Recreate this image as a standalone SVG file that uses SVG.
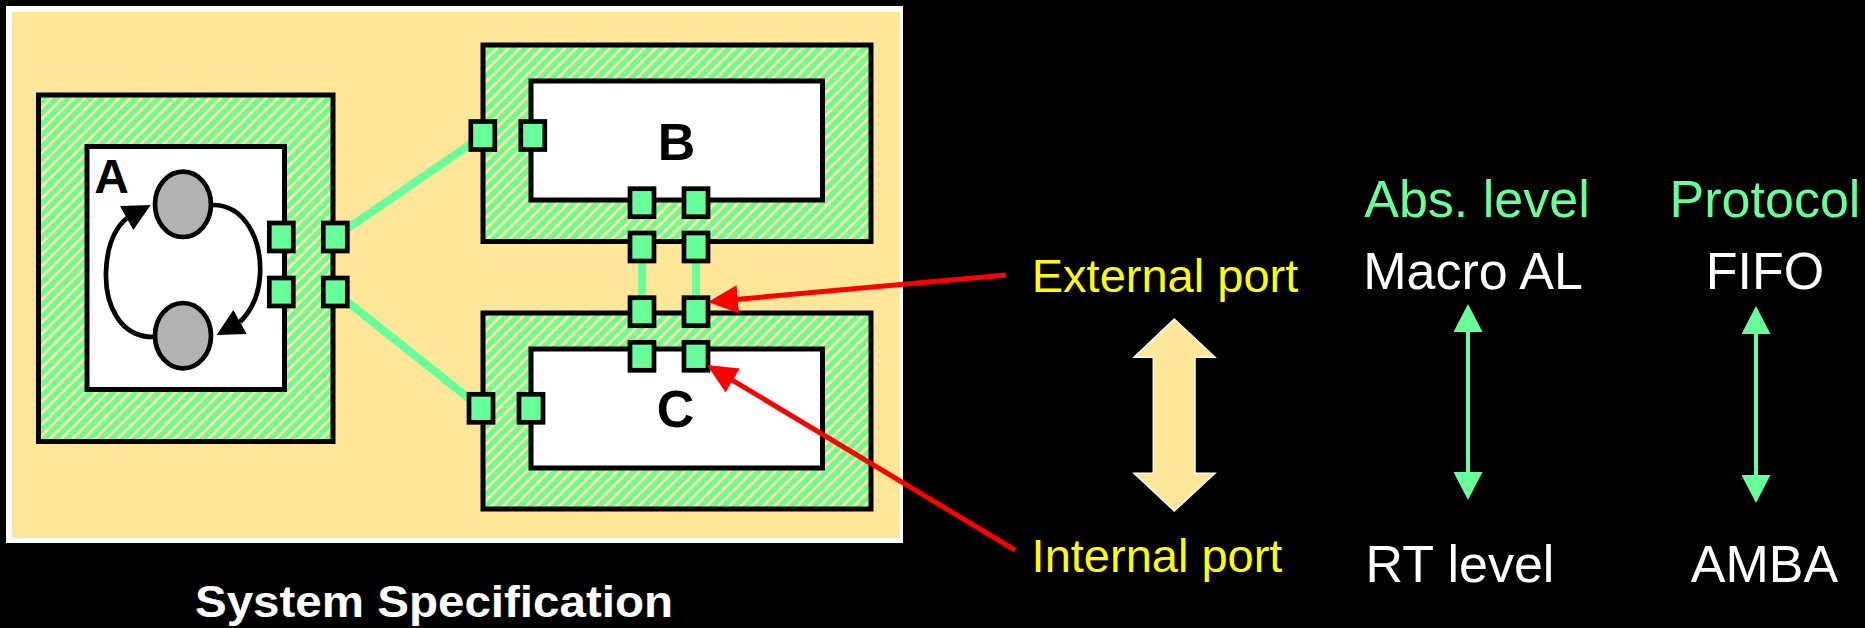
<svg xmlns="http://www.w3.org/2000/svg" width="1865" height="628" viewBox="0 0 1865 628">
<style>
.outer{fill:url(#hatch);stroke:#000;stroke-width:5}
.inner{fill:#fff;stroke:#000;stroke-width:5}
.port{fill:#66FF99;stroke:#000;stroke-width:4.7}
.lbl{font-family:"Liberation Sans",Arial,sans-serif;font-weight:bold;fill:#000;text-anchor:middle}
.txt{font-family:"Liberation Sans",Arial,sans-serif;text-anchor:middle}
.gline{stroke:#66FF99;stroke-width:8;fill:none}
.red{stroke:#FF0000;stroke-width:5;fill:none;marker-end:url(#redhead)}
.garr{stroke:#66FF99;stroke-width:4;fill:none;marker-start:url(#greenhead);marker-end:url(#greenhead)}
.loop{fill:none;stroke:#000;stroke-width:4.7}
</style>
<defs>
<pattern id="hatch" patternUnits="userSpaceOnUse" width="8" height="8" patternTransform="rotate(45)">
<rect width="8" height="8" fill="#66FF99"/>
<rect width="3" height="8" fill="#FFE699"/>
</pattern>
<marker id="redhead" markerUnits="userSpaceOnUse" markerWidth="30" markerHeight="28" viewBox="0 0 30 28" refX="8" refY="14" orient="auto">
<path d="M0,0 L30,14 L0,28 z" fill="#FF0000"/>
</marker>
<marker id="greenhead" markerUnits="userSpaceOnUse" markerWidth="28" markerHeight="29" viewBox="0 0 28 29" refX="2" refY="14.5" orient="auto-start-reverse">
<path d="M0,0 L28,14.5 L0,29 z" fill="#66FF99"/>
</marker>
</defs>
<rect x="0" y="0" width="1865" height="628" fill="#000"/>
<g id="panel">
<rect x="6" y="6" width="897" height="537" fill="#fff"/>
<rect x="12" y="12" width="888" height="526" fill="#FFE699"/>
</g>
<g id="connectors">
<line class="gline" x1="335" y1="237" x2="483" y2="135.5"/>
<line class="gline" x1="335" y1="292" x2="481" y2="408"/>
<line class="gline" x1="642" y1="247" x2="642" y2="312"/>
<line class="gline" x1="696" y1="247" x2="696" y2="312"/>
</g>
<g id="nodeA">
<rect class="outer" x="38.5" y="95" width="294.5" height="346.5"/>
<rect class="inner" x="87" y="146.5" width="197.5" height="243"/>
<text class="lbl" x="111.5" y="193" font-size="48">A</text>
<path class="loop" d="M213,205 C245,205 262,240 260,275 C259,295 252,310 240,322"/>
<path class="loop" d="M153,337 C120,337 105,305 106,272 C107,245 115,228 127,218"/>
<polygon points="216.7,335 233.3,310 246.7,334" fill="#000"/>
<polygon points="150.7,205 120,206 133.3,230" fill="#000"/>
<ellipse cx="183" cy="204.3" rx="28" ry="32.7" fill="#B2B2B2" stroke="#000" stroke-width="4.7"/>
<ellipse cx="183" cy="335.7" rx="28" ry="32.7" fill="#B2B2B2" stroke="#000" stroke-width="4.7"/>
<rect class="port" x="269.3" y="223" width="24" height="28"/>
<rect class="port" x="269.3" y="278" width="24" height="28"/>
<rect class="port" x="323.3" y="223" width="24" height="28"/>
<rect class="port" x="323.3" y="278" width="24" height="28"/>
</g>
<g id="nodeB">
<rect class="outer" x="483" y="45" width="388" height="196.5"/>
<rect class="inner" x="531" y="81" width="291.5" height="119"/>
<text class="lbl" x="676.5" y="160" font-size="52">B</text>
<rect class="port" x="470.8" y="121.5" width="24" height="28"/>
<rect class="port" x="520.8" y="121.5" width="24" height="28"/>
<rect class="port" x="630" y="188.7" width="24" height="28"/>
<rect class="port" x="684" y="188.7" width="24" height="28"/>
<rect class="port" x="630" y="233" width="24" height="28"/>
<rect class="port" x="684" y="233" width="24" height="28"/>
</g>
<g id="nodeC">
<rect class="outer" x="483" y="313" width="388" height="196"/>
<rect class="inner" x="531" y="349" width="291.5" height="119"/>
<text class="lbl" x="675.5" y="427" font-size="52">C</text>
<rect class="port" x="630" y="297.7" width="24" height="28"/>
<rect class="port" x="684" y="297.7" width="24" height="28"/>
<rect class="port" x="630" y="342.3" width="24" height="28"/>
<rect class="port" x="684" y="342.3" width="24" height="28"/>
<rect class="port" x="469" y="394.3" width="24" height="28"/>
<rect class="port" x="519" y="394.3" width="24" height="28"/>
</g>
<g id="pointers">
<line class="red" x1="1006" y1="275" x2="729.9" y2="300"/>
<line class="red" x1="1015" y1="550" x2="725.9" y2="376.3"/>
</g>
<g id="title">
<text class="txt" x="434" y="617" font-size="44" font-weight="bold" fill="#fff" textLength="478" lengthAdjust="spacingAndGlyphs">System Specification</text>
</g>
<g id="portLabels">
<text class="txt" x="1165" y="291.5" font-size="47" fill="#FFFF00">External port</text>
<text class="txt" x="1157" y="571.5" font-size="47" fill="#FFFF00">Internal port</text>
<polygon points="1174.3,319 1215,357.3 1195,357.3 1195,473.3 1215,473.3 1174.3,511 1134,473.3 1153.3,473.3 1153.3,357.3 1134,357.3" fill="#FFE699" stroke="#fff" stroke-width="1.5"/>
</g>
<g id="absLevel">
<text class="txt" x="1477" y="216.5" font-size="52" fill="#66FF99">Abs. level</text>
<text class="txt" x="1473" y="288.5" font-size="52" fill="#fff">Macro AL</text>
<line class="garr" x1="1468" y1="330" x2="1468" y2="474"/>
<text class="txt" x="1460" y="581.5" font-size="52" fill="#fff">RT level</text>
</g>
<g id="protocol">
<text class="txt" x="1765" y="216.5" font-size="52" fill="#66FF99">Protocol</text>
<text class="txt" x="1765" y="288.5" font-size="52" fill="#fff">FIFO</text>
<line class="garr" x1="1756" y1="332" x2="1756" y2="477"/>
<text class="txt" x="1764.5" y="581.5" font-size="52" fill="#fff">AMBA</text>
</g>
</svg>
